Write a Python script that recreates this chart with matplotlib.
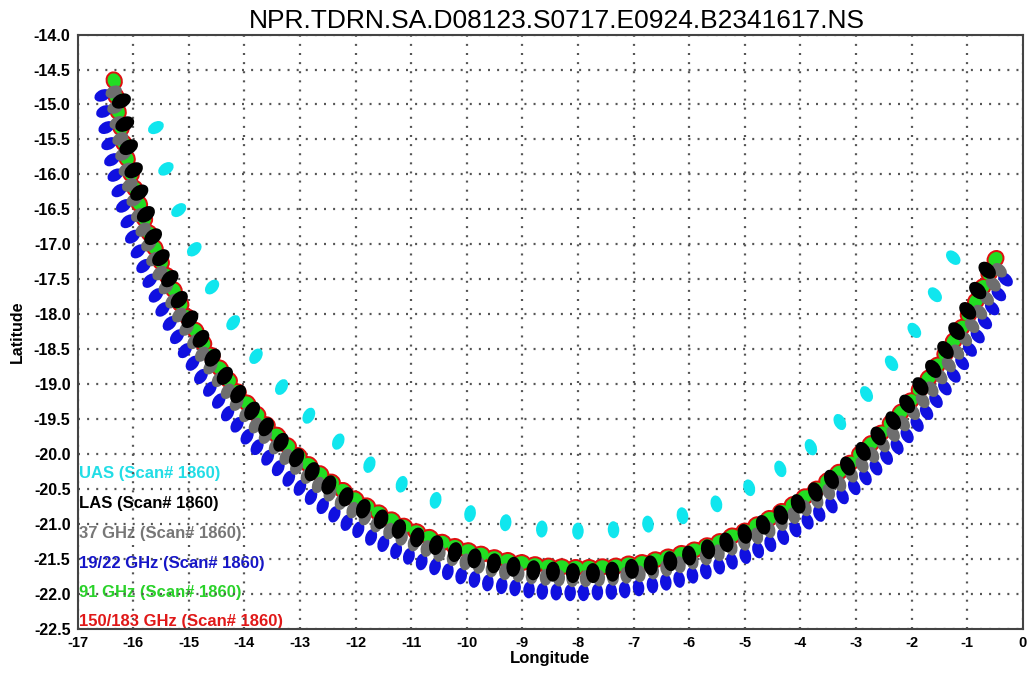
import numpy as np
import matplotlib
matplotlib.use("Agg")
import matplotlib.pyplot as plt
from matplotlib.collections import EllipseCollection

plt.rcParams['font.family'] = ['Liberation Sans', 'DejaVu Sans']

title = "NPR.TDRN.SA.D08123.S0717.E0924.B2341617.NS"
scan_no = 1860

lon_ticks = [-17, -16, -15, -14, -13, -12, -11, -10, -9, -8, -7, -6, -5, -4, -3, -2, -1, 0]
lat_ticks = [-22.5, -22.0, -21.5, -21.0, -20.5, -20.0, -19.5, -19.0, -18.5, -18.0,
             -17.5, -17.0, -16.5, -16.0, -15.5, -15.0, -14.5, -14.0]

# UAS footprints (30 per scan)
uas_lon = [-15.59, -15.41, -15.18, -14.90, -14.58, -14.20, -13.79, -13.33, -12.84, -12.31,
           -11.75, -11.17, -10.56, -9.94, -9.30, -8.65, -8.00, -7.36, -6.74, -6.12,
           -5.51, -4.92, -4.36, -3.81, -3.29, -2.81, -2.36, -1.95, -1.58, -1.25]
uas_lat = [-15.33, -15.92, -16.51, -17.07, -17.61, -18.12, -18.60, -19.04, -19.45, -19.82,
           -20.15, -20.43, -20.66, -20.85, -20.98, -21.07, -21.10, -21.08, -21.00, -20.88,
           -20.71, -20.48, -20.21, -19.90, -19.54, -19.14, -18.70, -18.23, -17.72, -17.19]

# LAS footprints (60 per scan)
las_lon = [-16.21, -16.15, -16.08, -15.99, -15.89, -15.77, -15.64, -15.50, -15.34, -15.17,
           -14.98, -14.78, -14.57, -14.35, -14.11, -13.86, -13.61, -13.34, -13.06, -12.78,
           -12.48, -12.17, -11.86, -11.54, -11.22, -10.89, -10.55, -10.21, -9.86, -9.51,
           -9.16, -8.80, -8.45, -8.09, -7.73, -7.38, -7.03, -6.69, -6.34, -6.00,
           -5.66, -5.33, -5.00, -4.67, -4.35, -4.04, -3.73, -3.44, -3.15, -2.87,
           -2.60, -2.33, -2.08, -1.84, -1.61, -1.39, -1.19, -0.99, -0.81, -0.64]
las_lat = [-14.95, -15.28, -15.61, -15.94, -16.26, -16.57, -16.89, -17.19, -17.49, -17.79,
           -18.07, -18.35, -18.62, -18.88, -19.14, -19.38, -19.61, -19.83, -20.05, -20.25,
           -20.44, -20.61, -20.78, -20.93, -21.07, -21.19, -21.30, -21.40, -21.49, -21.56,
           -21.61, -21.66, -21.68, -21.70, -21.70, -21.68, -21.64, -21.59, -21.53, -21.45,
           -21.36, -21.26, -21.14, -21.01, -20.87, -20.71, -20.54, -20.36, -20.17, -19.96,
           -19.74, -19.52, -19.28, -19.03, -18.78, -18.51, -18.24, -17.95, -17.66, -17.37]

# 37 GHz footprints
g37_lon = [-16.35, -16.32, -16.28, -16.23, -16.18, -16.12, -16.06, -15.98, -15.90, -15.82,
           -15.72, -15.63, -15.52, -15.41, -15.29, -15.17, -15.04, -14.90, -14.76, -14.61,
           -14.46, -14.30, -14.14, -13.97, -13.80, -13.62, -13.44, -13.25, -13.06, -12.87,
           -12.67, -12.46, -12.26, -12.05, -11.83, -11.62, -11.39, -11.17, -10.95, -10.72,
           -10.49, -10.25, -10.02, -9.78, -9.55, -9.31, -9.07, -8.83, -8.58, -8.34,
           -8.10, -7.86, -7.62, -7.37, -7.13, -6.89, -6.65, -6.41, -6.17, -5.94,
           -5.70, -5.47, -5.24, -5.01, -4.78, -4.56, -4.34, -4.12, -3.91, -3.70,
           -3.49, -3.29, -3.08, -2.89, -2.70, -2.51, -2.33, -2.15, -1.97, -1.80,
           -1.64, -1.48, -1.33, -1.18, -1.04, -0.91, -0.77, -0.65, -0.53, -0.42]
g37_lat = [-14.82, -15.04, -15.26, -15.49, -15.71, -15.93, -16.15, -16.36, -16.58, -16.79,
           -17.00, -17.21, -17.41, -17.61, -17.81, -18.01, -18.20, -18.39, -18.57, -18.75,
           -18.93, -19.10, -19.27, -19.43, -19.59, -19.74, -19.89, -20.04, -20.18, -20.31,
           -20.44, -20.56, -20.68, -20.80, -20.90, -21.00, -21.10, -21.19, -21.27, -21.35,
           -21.42, -21.48, -21.54, -21.59, -21.64, -21.68, -21.71, -21.74, -21.76, -21.77,
           -21.78, -21.78, -21.77, -21.76, -21.73, -21.71, -21.67, -21.63, -21.58, -21.53,
           -21.47, -21.41, -21.33, -21.26, -21.17, -21.08, -20.98, -20.88, -20.77, -20.66,
           -20.54, -20.42, -20.29, -20.15, -20.01, -19.86, -19.71, -19.56, -19.40, -19.23,
           -19.07, -18.89, -18.72, -18.54, -18.35, -18.16, -17.97, -17.77, -17.57, -17.37]

# 19/22 GHz footprints
g19_lon = [-16.55, -16.52, -16.48, -16.43, -16.38, -16.32, -16.25, -16.17, -16.09, -16.01,
           -15.91, -15.81, -15.70, -15.59, -15.47, -15.34, -15.21, -15.07, -14.93, -14.78,
           -14.62, -14.46, -14.30, -14.13, -13.95, -13.77, -13.58, -13.39, -13.20, -13.00,
           -12.80, -12.59, -12.38, -12.16, -11.95, -11.72, -11.50, -11.27, -11.04, -10.81,
           -10.57, -10.34, -10.10, -9.86, -9.62, -9.37, -9.13, -8.88, -8.64, -8.39,
           -8.14, -7.90, -7.65, -7.40, -7.16, -6.91, -6.66, -6.42, -6.18, -5.94,
           -5.70, -5.46, -5.23, -4.99, -4.76, -4.54, -4.31, -4.09, -3.87, -3.66,
           -3.44, -3.24, -3.03, -2.83, -2.64, -2.45, -2.26, -2.08, -1.90, -1.73,
           -1.56, -1.40, -1.24, -1.09, -0.95, -0.81, -0.68, -0.55, -0.43, -0.31]
g19_lat = [-14.87, -15.10, -15.33, -15.56, -15.79, -16.01, -16.23, -16.45, -16.67, -16.89,
           -17.10, -17.31, -17.52, -17.73, -17.93, -18.13, -18.32, -18.52, -18.70, -18.89,
           -19.07, -19.24, -19.42, -19.58, -19.75, -19.90, -20.05, -20.20, -20.35, -20.48,
           -20.61, -20.74, -20.86, -20.98, -21.08, -21.19, -21.28, -21.38, -21.46, -21.54,
           -21.61, -21.68, -21.74, -21.79, -21.84, -21.88, -21.91, -21.94, -21.96, -21.97,
           -21.98, -21.98, -21.97, -21.96, -21.94, -21.91, -21.87, -21.83, -21.79, -21.73,
           -21.67, -21.60, -21.53, -21.45, -21.37, -21.28, -21.18, -21.07, -20.96, -20.85,
           -20.73, -20.60, -20.47, -20.33, -20.19, -20.04, -19.89, -19.73, -19.57, -19.40,
           -19.23, -19.05, -18.87, -18.69, -18.50, -18.31, -18.11, -17.91, -17.71, -17.50]

# imager footprints (91 GHz and 150/183 GHz share the feed)
img_lon = [-16.34, -16.31, -16.27, -16.22, -16.17, -16.11, -16.04, -15.97, -15.89, -15.80,
           -15.71, -15.61, -15.50, -15.39, -15.27, -15.15, -15.02, -14.88, -14.74, -14.59,
           -14.44, -14.28, -14.12, -13.95, -13.77, -13.60, -13.41, -13.22, -13.03, -12.84,
           -12.64, -12.43, -12.22, -12.01, -11.80, -11.58, -11.35, -11.13, -10.90, -10.67,
           -10.44, -10.21, -9.97, -9.74, -9.50, -9.26, -9.01, -8.77, -8.53, -8.29,
           -8.04, -7.80, -7.56, -7.32, -7.09, -6.85, -6.61, -6.38, -6.14, -5.91,
           -5.68, -5.45, -5.23, -5.00, -4.78, -4.56, -4.34, -4.13, -3.92, -3.71,
           -3.51, -3.31, -3.11, -2.92, -2.73, -2.55, -2.37, -2.19, -2.02, -1.85,
           -1.69, -1.54, -1.39, -1.24, -1.10, -0.97, -0.84, -0.72, -0.60, -0.49]
img_lat = [-14.66, -14.88, -15.10, -15.33, -15.55, -15.77, -15.99, -16.20, -16.42, -16.63,
           -16.84, -17.05, -17.25, -17.45, -17.65, -17.85, -18.04, -18.23, -18.41, -18.59,
           -18.77, -18.94, -19.11, -19.27, -19.43, -19.58, -19.73, -19.88, -20.02, -20.15,
           -20.28, -20.40, -20.52, -20.64, -20.74, -20.84, -20.94, -21.03, -21.11, -21.19,
           -21.26, -21.32, -21.38, -21.43, -21.48, -21.52, -21.55, -21.58, -21.60, -21.61,
           -21.62, -21.62, -21.61, -21.60, -21.57, -21.55, -21.51, -21.47, -21.42, -21.37,
           -21.31, -21.25, -21.17, -21.10, -21.01, -20.92, -20.82, -20.72, -20.61, -20.50,
           -20.38, -20.26, -20.13, -19.99, -19.85, -19.70, -19.55, -19.40, -19.24, -19.07,
           -18.91, -18.73, -18.56, -18.38, -18.19, -18.00, -17.81, -17.61, -17.41, -17.21]

fig = plt.figure(figsize=(10.28, 6.75), dpi=100)
ax = fig.add_axes([0.0754, 0.0681, 0.9195, 0.8807])
ax.set_xlim(-17, 0)
ax.set_ylim(-22.5, -14)

# long axes of the footprints all lean towards this point on screen
look_from = (-8.0, -11.8)


def footprints(lon, lat, long_ax, short_ax, color, z):
    xy = np.column_stack([lon, lat])
    disp = ax.transData.transform(xy)
    fx, fy = ax.transData.transform(look_from)
    ang = np.degrees(np.arctan2(fy - disp[:, 1], fx - disp[:, 0]))
    n = len(lon)
    ec = EllipseCollection(np.full(n, long_ax), np.full(n, short_ax), ang,
                           units='dots', offsets=xy,
                           offset_transform=ax.transData,
                           facecolors=color, edgecolors='none', zorder=z)
    ax.add_collection(ec)


footprints(img_lon, img_lat, 17.0, 19.0, '#e01010', 2.0)
footprints(img_lon, img_lat, 13.0, 15.0, '#22dd22', 2.05)
footprints(g19_lon, g19_lat, 17.0, 11.5, '#1010e0', 2.1)
footprints(g37_lon, g37_lat, 17.0, 12.0, '#6e6e6e', 2.15)
footprints(las_lon, las_lat, 20.0, 14.0, '#000000', 2.2)
footprints(uas_lon, uas_lat, 17.0, 11.5, '#10e6ee', 2.25)

# channel labels stacked in the lower left corner, under the grid
labels = [("UAS", '#22dde6'), ("LAS", '#000000'), ("37 GHz", '#777777'),
          ("19/22 GHz", '#1515c8'), ("91 GHz", '#2ad22a'), ("150/183 GHz", '#e01818')]
label_y = [0.262, 0.212, 0.161, 0.111, 0.061, 0.012]
for (name, col), yy in zip(labels, label_y):
    ax.text(0.002, yy, f"{name} (Scan# {scan_no})", transform=ax.transAxes,
            color=col, fontsize=12, fontweight='bold', ha='left', va='center', zorder=0.4)

ax.set_xticks(lon_ticks)
ax.set_xticklabels([str(v) for v in lon_ticks])
ax.set_yticks(lat_ticks)
ax.set_yticklabels([f"{v:.1f}" for v in lat_ticks])
ax.tick_params(length=0, pad=5)
ax.tick_params(axis='x', labelsize=10.5)
ax.tick_params(axis='y', labelsize=11.5)
for lab in ax.get_xticklabels() + ax.get_yticklabels():
    lab.set_fontweight('bold')

ax.set_axisbelow(True)
ax.grid(True, color='#555555', linestyle=(0, (0.9, 3.2)), linewidth=1.6)
for s in ax.spines.values():
    s.set_color('#444444')
    s.set_linewidth(1.5)
    s.set_zorder(3)

ax.set_xlabel("Longitude", fontsize=12, fontweight='bold', labelpad=1)
ax.set_ylabel("Latitude", fontsize=11.5, fontweight='bold', labelpad=6)
ax.set_title(title, fontsize=19, pad=5, x=0.507)

fig.savefig("out.png", dpi=100)
